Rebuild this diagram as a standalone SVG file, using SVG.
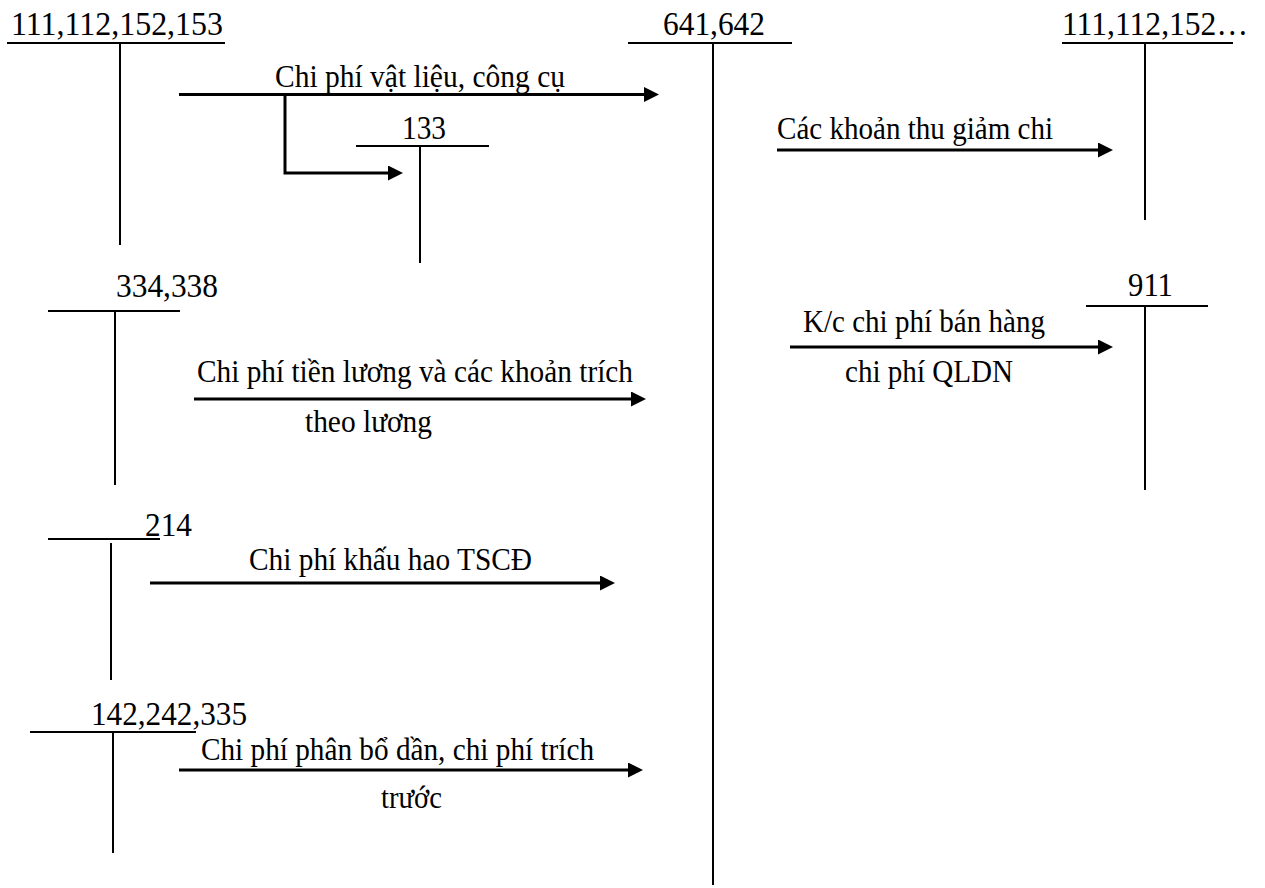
<svg xmlns="http://www.w3.org/2000/svg" width="1265" height="888" viewBox="0 0 1265 888">
<style>
text{font-family:"Liberation Serif","Times New Roman",serif;fill:#000}
.acc{font-size:33px}
.lbl{font-size:32px}
.t{stroke:#000;stroke-width:2;fill:none}
.a{stroke:#000;stroke-width:3;fill:none}
</style>
<defs>
<marker id="ah" markerUnits="userSpaceOnUse" markerWidth="16" markerHeight="16" refX="0" refY="7.5" orient="auto">
<path d="M0,0 L15,7.5 L0,15 z" fill="#000"/>
</marker>
</defs>
<rect width="1265" height="888" fill="#fff"/>
<g id="acc-111-112-152-153">
<text class="acc" x="11" y="35" textLength="212" lengthAdjust="spacingAndGlyphs">111,112,152,153</text>
<path class="t" d="M7,43 H225 M120,43 V245"/>
</g>
<g id="acc-641-642">
<text class="acc" x="663" y="35" textLength="102" lengthAdjust="spacingAndGlyphs">641,642</text>
<path class="t" d="M628,43 H792 M713,43 V885"/>
</g>
<g id="acc-111-112-152-right">
<text class="acc" x="1062" y="35" textLength="186" lengthAdjust="spacingAndGlyphs">111,112,152…</text>
<path class="t" d="M1062,43 H1233 M1145,43 V220"/>
</g>
<g id="acc-133">
<text class="acc" x="402" y="139" textLength="44" lengthAdjust="spacingAndGlyphs">133</text>
<path class="t" d="M356,146 H489 M420,146 V263"/>
</g>
<g id="acc-334-338">
<text class="acc" x="116" y="297" textLength="102" lengthAdjust="spacingAndGlyphs">334,338</text>
<path class="t" d="M48,311 H180 M115,311 V485"/>
</g>
<g id="acc-911">
<text class="acc" x="1128" y="296" textLength="45" lengthAdjust="spacingAndGlyphs">911</text>
<path class="t" d="M1086,306 H1208 M1145,306 V490"/>
</g>
<g id="acc-214">
<text class="acc" x="145" y="536" textLength="47" lengthAdjust="spacingAndGlyphs">214</text>
<path class="t" d="M48,539 H160 M111,543 V680"/>
</g>
<g id="acc-142-242-335">
<text class="acc" x="91" y="725" textLength="156" lengthAdjust="spacingAndGlyphs">142,242,335</text>
<path class="t" d="M30,732 H196 M113,732 V853"/>
</g>
<g id="connectors">
<path class="a" d="M179,94.5 H644" marker-end="url(#ah)"/>
<path class="a" d="M285,94.5 V173 H388" marker-end="url(#ah)"/>
<path class="a" d="M777,150 H1098" marker-end="url(#ah)"/>
<path class="a" d="M194,399 H631" marker-end="url(#ah)"/>
<path class="a" d="M790,347 H1098" marker-end="url(#ah)"/>
<path class="a" d="M150,583 H600" marker-end="url(#ah)"/>
<path class="a" d="M179,770 H628" marker-end="url(#ah)"/>
<text class="lbl" x="275" y="87" textLength="290" lengthAdjust="spacingAndGlyphs">Chi phí vật liệu, công cụ</text>
<text class="lbl" x="777" y="139" textLength="276" lengthAdjust="spacingAndGlyphs">Các khoản thu giảm chi</text>
<text class="lbl" x="197" y="382" textLength="436" lengthAdjust="spacingAndGlyphs">Chi phí tiền lương và các khoản trích</text>
<text class="lbl" x="305" y="432" textLength="127" lengthAdjust="spacingAndGlyphs">theo lương</text>
<text class="lbl" x="803" y="332" textLength="242" lengthAdjust="spacingAndGlyphs">K/c chi phí bán hàng</text>
<text class="lbl" x="845" y="382" textLength="168" lengthAdjust="spacingAndGlyphs">chi phí QLDN</text>
<text class="lbl" x="249" y="570" textLength="283" lengthAdjust="spacingAndGlyphs">Chi phí khấu hao TSCĐ</text>
<text class="lbl" x="201" y="760" textLength="393" lengthAdjust="spacingAndGlyphs">Chi phí phân bổ dần, chi phí trích</text>
<text class="lbl" x="381" y="808" textLength="61" lengthAdjust="spacingAndGlyphs">trước</text>
</g>
</svg>
